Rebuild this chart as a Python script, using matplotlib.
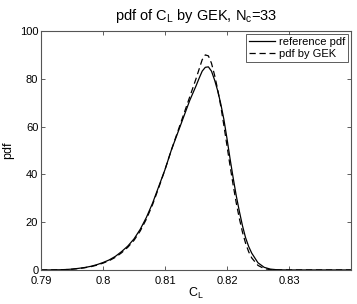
import matplotlib
matplotlib.use("Agg")
import matplotlib.pyplot as plt

plt.rcParams['font.family'] = ['Liberation Sans', 'DejaVu Sans']
plt.rcParams['mathtext.fontset'] = 'custom'
plt.rcParams['mathtext.rm'] = 'Liberation Sans'
plt.rcParams['mathtext.it'] = 'Liberation Sans'

x_ref = [0.790, 0.791, 0.792, 0.793, 0.794, 0.795, 0.796, 0.797, 0.798, 0.799,
         0.800, 0.801, 0.802, 0.803, 0.804, 0.805, 0.806, 0.807, 0.808, 0.809,
         0.810, 0.811, 0.812, 0.813, 0.814, 0.815, 0.8155, 0.816, 0.8165, 0.817,
         0.8175, 0.818, 0.8185, 0.819, 0.8195, 0.820, 0.8205, 0.821, 0.8215, 0.822,
         0.8225, 0.823, 0.8235, 0.824, 0.825, 0.826, 0.827, 0.828, 0.829, 0.830, 0.84]
y_ref = [0.0, 0.01, 0.03, 0.08, 0.18, 0.35, 0.65, 1.0, 1.5, 2.2,
         3.1, 4.2, 5.7, 7.7, 10.0, 13.0, 17.0, 22.0, 28.0, 35.0,
         42.0, 50.0, 57.0, 64.0, 71.0, 77.0, 80.2, 83.2, 84.8, 85.0,
         83.2, 79.5, 75.0, 69.5, 63.0, 55.0, 46.5, 38.5, 31.0, 24.5,
         18.5, 13.5, 9.8, 7.0, 3.0, 1.1, 0.35, 0.1, 0.03, 0.0, 0.0]

x_gek = [0.790, 0.792, 0.794, 0.795, 0.796, 0.797, 0.798, 0.799, 0.800, 0.801,
         0.802, 0.803, 0.804, 0.805, 0.806, 0.807, 0.808, 0.809, 0.810, 0.811,
         0.812, 0.813, 0.814, 0.815, 0.8155, 0.816, 0.8165, 0.817, 0.8175, 0.818,
         0.8185, 0.819, 0.8195, 0.820, 0.8205, 0.821, 0.8215, 0.822, 0.8225, 0.823,
         0.8235, 0.824, 0.825, 0.826, 0.827, 0.828, 0.829, 0.84]
y_gek = [0.0, 0.02, 0.14, 0.3, 0.55, 0.9, 1.35, 2.0, 2.85, 3.9,
         5.3, 7.2, 9.5, 12.4, 16.3, 21.3, 27.4, 34.5, 42.0, 50.0,
         57.5, 65.0, 72.5, 80.0, 84.0, 88.0, 90.0, 89.6, 86.5, 81.5,
         75.5, 68.5, 60.5, 52.0, 43.5, 35.5, 28.0, 21.5, 15.8, 11.2,
         7.6, 5.0, 1.9, 0.55, 0.12, 0.02, 0.0, 0.0]

xticks = [0.79, 0.80, 0.81, 0.82, 0.83]
xticklabels = ['0.79', '0.8', '0.81', '0.82', '0.83']
yticks = [0, 20, 40, 60, 80, 100]

fig = plt.figure(figsize=(3.57, 3.04), dpi=100)
ax = fig.add_axes([0.115, 0.112, 0.868, 0.786])
ax.plot(x_ref, y_ref, 'k-', lw=0.9, label='reference pdf')
ax.plot(x_gek, y_gek, 'k--', lw=0.9, dashes=(5, 3), label='pdf by GEK')
ax.set_xlim(0.79, 0.84)
ax.set_ylim(0, 100)
ax.set_xticks(xticks)
ax.set_xticklabels(xticklabels)
ax.set_yticks(yticks)
ax.tick_params(direction='in', top=True, right=True, labelsize=8, length=3,
               width=0.6, color='#444444')
ax.tick_params(axis='x', pad=4)
ax.tick_params(axis='y', pad=2)
for s in ax.spines.values():
    s.set_color('#555555')
    s.set_linewidth(0.8)
ax.set_title('pdf of C$_\\mathrm{L}$ by GEK, N$_\\mathrm{c}$=33', fontsize=10.5, pad=8)
ax.set_xlabel('C$_\\mathrm{L}$', fontsize=9, labelpad=0)
ax.set_ylabel('pdf', fontsize=9, labelpad=4)
leg = ax.legend(loc='upper right', fontsize=8, frameon=True, fancybox=False,
                edgecolor='#333333', borderaxespad=0.3, handlelength=2.4,
                handletextpad=0.3, borderpad=0.25, labelspacing=0.2)
leg.get_frame().set_linewidth(0.7)
fig.savefig('out.png', dpi=100)
